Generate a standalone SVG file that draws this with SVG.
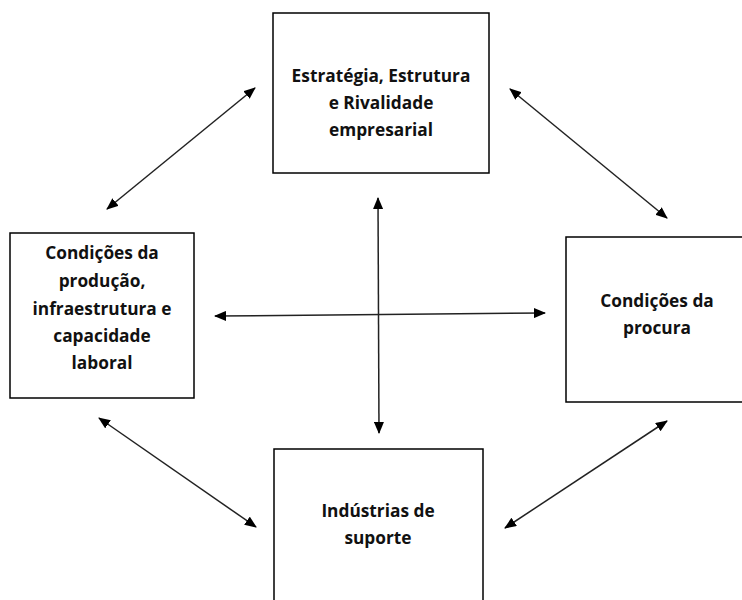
<svg xmlns="http://www.w3.org/2000/svg" width="742" height="600" viewBox="0 0 742 600">
<style>
.box{fill:#fff;stroke:#000;stroke-width:1.5}
.lbl{font-family:"Open Sans","Liberation Sans",sans-serif;font-weight:700;font-size:17.3px;fill:#111;text-anchor:middle}
.con{stroke:#222;stroke-width:1.5;fill:none;marker-start:url(#ah);marker-end:url(#ah)}
</style>
<defs>
<marker id="ah" markerUnits="userSpaceOnUse" markerWidth="12" markerHeight="10" refX="11" refY="5" orient="auto-start-reverse" viewBox="0 0 12 10">
<path d="M0,0 L12,5 L0,10 z" fill="#000"/>
</marker>
</defs>
<rect width="742" height="600" fill="#fff"/>
<g id="node-estrategia">
<rect class="box" x="273" y="13" width="216" height="160"/>
<text class="lbl" x="381" y="82">Estratégia, Estrutura</text>
<text class="lbl" x="381" y="109">e Rivalidade</text>
<text class="lbl" x="381" y="136">empresarial</text>
</g>
<g id="node-producao">
<rect class="box" x="10" y="233" width="184" height="165"/>
<text class="lbl" x="102" y="259">Condições da</text>
<text class="lbl" x="102" y="287">produção,</text>
<text class="lbl" x="102" y="315">infraestrutura e</text>
<text class="lbl" x="102" y="342">capacidade</text>
<text class="lbl" x="102" y="369">laboral</text>
</g>
<g id="node-procura">
<rect class="box" x="566" y="237" width="184" height="165"/>
<text class="lbl" x="657" y="307">Condições da</text>
<text class="lbl" x="657" y="334">procura</text>
</g>
<g id="node-suporte">
<rect class="box" x="274" y="449" width="209" height="160"/>
<text class="lbl" x="378" y="517">Indústrias de</text>
<text class="lbl" x="378" y="544">suporte</text>
</g>
<g id="connectors">
<line class="con" x1="107" y1="209" x2="255" y2="88"/>
<line class="con" x1="510" y1="89" x2="667" y2="218"/>
<line class="con" x1="99" y1="418" x2="256" y2="527"/>
<line class="con" x1="505" y1="528" x2="667" y2="421"/>
<line class="con" x1="215" y1="316" x2="545" y2="313"/>
<line class="con" x1="378" y1="198" x2="379" y2="433"/>
</g>
</svg>
